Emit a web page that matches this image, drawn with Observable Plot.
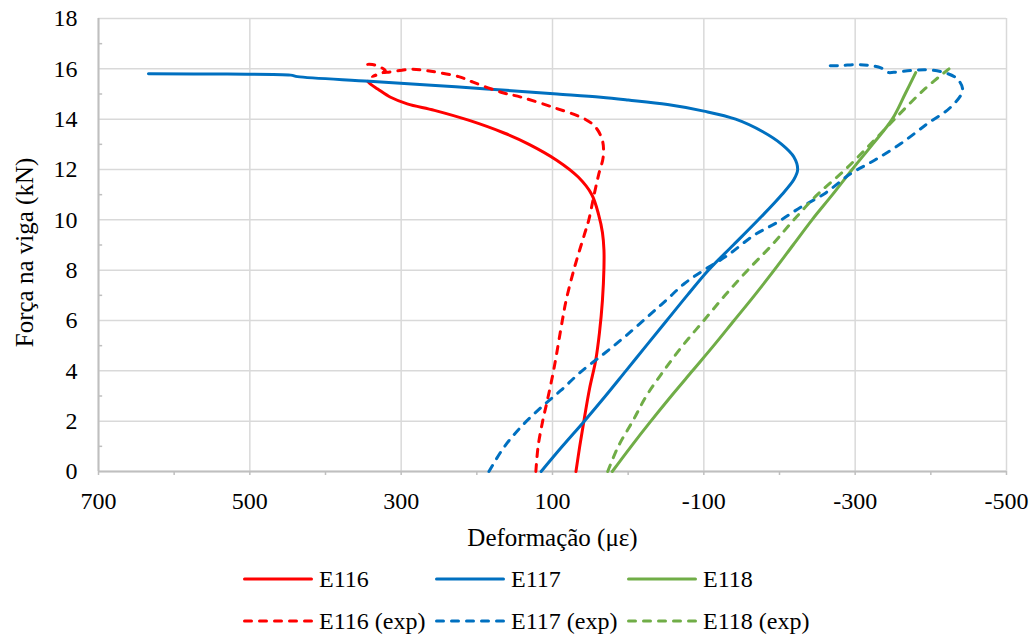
<!DOCTYPE html>
<html>
<head>
<meta charset="utf-8">
<script src="https://cdn.jsdelivr.net/npm/d3@7"></script>
<script src="https://cdn.jsdelivr.net/npm/@observablehq/plot@0.6"></script>
<style>
  html, body { margin: 0; padding: 0; background: #fff; }
  #wrap { position: relative; width: 1035px; height: 637px; font-family: "Liberation Serif", "Times New Roman", Times, Tinos, "DejaVu Serif", "Noto Serif", serif; }
  #chart svg, #chart svg text { font-family: "Liberation Serif", "Times New Roman", Times, Tinos, "DejaVu Serif", "Noto Serif", serif !important; }
  #legend { position: absolute; left: 0; top: 558px; width: 1035px; height: 84px; }
  .row { position: absolute; left: 243px; height: 42px; display: flex; align-items: center; }
  .item { width: 192px; display: flex; align-items: center; font-size: 24px; color: #000; white-space: nowrap; }
  .item svg { margin-right: 6px; flex: none; }
</style>
</head>
<body>
<div id="wrap">
  <div id="chart"></div>
  <div id="legend"></div>
</div>
<script>
// ---- data (strain in µε, force in kN) ----
const xTicks = [700, 500, 300, 100, -100, -300, -500];
const xMinor = [700, 600, 500, 400, 300, 200, 100, 0, -100, -200, -300, -400, -500];
const yTicks = [0, 2, 4, 6, 8, 10, 12, 14, 16, 18];
const yMinor = [1, 3, 5, 7, 9, 11, 13, 15, 17];

const seriesNames = ["E116", "E117", "E118", "E116 (exp)", "E117 (exp)", "E118 (exp)"];
const seriesColors = ["#FF0000", "#0070C0", "#70AD47", "#FF0000", "#0070C0", "#70AD47"];
const seriesDashed = [false, false, false, true, true, true];

const e116 = [[69,0],[64,1],[58,2.1],[51,3.3],[43,4.4],[38,5.5],[34,6.8],[32,8.1],[32,8.8],[34,9.5],[39,10.2],[48,11.0],[66,11.7],[94,12.36],[131,13.0],[164,13.45],[210,13.95],[256,14.35],[292,14.61],[314,14.87],[331,15.2],[340,15.38],[344,15.5]];
const e117 = [[115,0],[87,1],[58,2],[30,3],[3,4],[-24,5],[-51,6],[-78,7],[-106,8],[-139,9],[-172,10],[-203,11],[-219,11.6],[-224,12],[-219,12.5],[-203,13],[-178,13.5],[-142,14],[-100,14.32],[-52,14.58],[0,14.76],[36,14.87],[94,15.0],[187,15.2],[260,15.35],[342,15.51],[437,15.69],[446,15.75],[530,15.79],[634,15.8]];
const e118 = [[21,0],[-4,1],[-30,2],[-57,3],[-85,4],[-113,5],[-140,6],[-167,7],[-193,8],[-218,9],[-243,10],[-270,11],[-296,12],[-323,13],[-349,14],[-366,15],[-380,15.85]];
const e116exp = [[122,0],[119,1],[113,2],[107,2.8],[98,4.1],[87,6.0],[82,6.8],[71,8.1],[58,9.4],[52,10.0],[45,11.0],[39,11.8],[33,12.5],[34,13.15],[43,13.68],[57,14.0],[99,14.47],[141,14.87],[168,15.07],[205,15.47],[224,15.69],[250,15.85],[267,15.93],[287,15.98],[314,15.88],[327,15.83],[338,15.69],[331,15.77],[321,15.93],[327,16.06],[338,16.17],[349,16.17]];
const e117exp = [[184,0],[164,0.97],[142,1.76],[115,2.55],[89,3.22],[63,3.95],[32,4.68],[5,5.34],[-25,6.13],[-50,6.8],[-74,7.46],[-100,8.0],[-131,8.58],[-166,9.38],[-197,9.9],[-228,10.5],[-259,11.03],[-294,11.83],[-325,12.36],[-360,13.02],[-395,13.81],[-426,14.47],[-442,15.14],[-435,15.6],[-417,15.86],[-395,15.96],[-373,15.93],[-351,15.86],[-343,15.86],[-334,16.04],[-320,16.13],[-303,16.17],[-281,16.13],[-265,16.12]];
const e118exp = [[27,0],[13,1],[-6,2],[-24,3],[-47,4],[-72,5],[-100,6],[-128,7],[-158,8],[-190,9],[-219,10],[-250,11],[-287,12],[-320,13],[-352,14],[-392,15.2],[-424,16.0]];

const allSeries = [e116, e117, e118, e116exp, e117exp, e118exp];

const font = "\"Liberation Serif\", \"Times New Roman\", Times, Tinos, \"DejaVu Serif\", serif";
const gridColor = "#D9D9D9";
const axisColor = "#BFBFBF";

const lineMarks = allSeries.map((s, i) => Plot.line(s, {
  x: d => d[0], y: d => d[1],
  stroke: seriesColors[i], strokeWidth: 3,
  strokeDasharray: seriesDashed[i] ? "7,8" : null,
  strokeLinecap: "round", strokeLinejoin: "round",
  curve: "catmull-rom"
}));

const chart = Plot.plot({
  width: 1035, height: 560,
  marginTop: 18, marginLeft: 98, marginRight: 29, marginBottom: 89,
  x: {domain: [700, -500]},
  y: {domain: [0, 18]},
  style: {fontFamily: font, fontSize: "24px", color: "#000", background: "#fff", overflow: "visible"},
  marks: [
    Plot.gridX(xTicks, {stroke: gridColor, strokeOpacity: 1, strokeWidth: 1.5}),
    Plot.gridY(yTicks, {stroke: gridColor, strokeOpacity: 1, strokeWidth: 1.5}),
    Plot.axisX(xMinor, {tickSize: 4, tickFormat: () => "", stroke: axisColor, strokeWidth: 1.5, label: null}),
    Plot.axisX(xTicks, {tickSize: 0, tickPadding: 20, fontSize: 24, label: null, tickFormat: d => String(d)}),
    Plot.axisY(yTicks, {tickSize: 0, tickPadding: 21, fontSize: 24, label: null}),
    Plot.ruleY(yMinor, {y: d => d, x1: 700, x2: 694.5, stroke: axisColor, strokeWidth: 1.5}),
    Plot.ruleX([700], {stroke: axisColor, strokeWidth: 2}),
    Plot.ruleY([0], {stroke: axisColor, strokeWidth: 2}),
    ...lineMarks,
    Plot.text(["Deformação (με)"], {frameAnchor: "bottom", text: d => d, textAnchor: "middle", dy: 74, fontSize: 25, fill: "#000"}),
    Plot.text(["Força na viga (kN)"], {frameAnchor: "left", text: d => d, textAnchor: "middle", lineAnchor: "middle", rotate: -90, dx: -74, dy: 7.5, fontSize: 25, fill: "#000"})
  ]
});
document.getElementById("chart").appendChild(chart);

// ---- legend ----
const legend = document.getElementById("legend");
[[0, 1, 2], [3, 4, 5]].forEach((idxs, r) => {
  const row = document.createElement("div");
  row.className = "row";
  row.style.top = (r * 42) + "px";
  idxs.forEach(i => {
    const item = document.createElement("div");
    item.className = "item";
    const dash = seriesDashed[i] ? ' stroke-dasharray="7,8"' : '';
    item.innerHTML = `<svg width="70" height="10"><line x1="1.5" y1="5" x2="68.5" y2="5" stroke="${seriesColors[i]}" stroke-width="3" stroke-linecap="round"${dash}/></svg><span>${seriesNames[i]}</span>`;
    row.appendChild(item);
  });
  legend.appendChild(row);
});
</script>
</body>
</html>
